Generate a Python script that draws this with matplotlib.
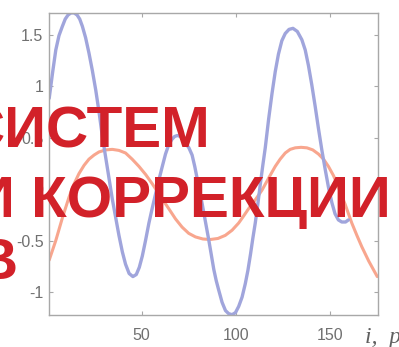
import matplotlib
matplotlib.use("Agg")
import matplotlib.pyplot as plt

# Blue series
blue_i = [1.0, 2.8, 4.5, 6.2, 8.0, 9.5, 11.0, 12.6, 14.2, 15.8, 17.2, 18.6, 20.3, 22.1, 23.9, 25.7,
          27.5, 29.2, 31.9, 34.5, 36.3, 38.0, 39.8, 41.5, 43.4, 45.4, 47.2, 48.8, 50.4, 52.1, 53.9,
          55.6, 57.4, 59.2, 61.0, 62.7, 64.4, 66.0, 67.5, 69.0, 70.6, 72.0, 73.5, 75.1, 76.8, 78.2,
          79.5, 80.8, 82.1, 83.8, 85.6, 87.0, 88.3, 89.6, 90.9, 92.7, 94.5, 96.2, 98.0, 99.8, 101.5,
          103.3, 105.0, 106.4, 107.8, 109.0, 110.3, 111.7, 113.0, 114.3, 115.6, 117.4, 119.2, 120.9,
          122.6, 124.4, 126.2, 128.2, 130.3, 132.6, 135.0, 136.8, 138.5, 140.3, 142.1, 143.8, 145.6,
          147.4, 149.1, 150.9, 152.6, 154.4, 156.2, 158.2, 159.7]
blue_v = [0.88, 1.13, 1.35, 1.49, 1.58, 1.65, 1.69, 1.71, 1.71, 1.69, 1.65, 1.58, 1.47, 1.32, 1.15, 0.96,
          0.74, 0.51, 0.20, -0.10, -0.28, -0.45, -0.61, -0.73, -0.82, -0.85, -0.83, -0.76, -0.65, -0.50, -0.33,
          -0.19, -0.05, 0.09, 0.22, 0.34, 0.43, 0.48, 0.51, 0.52, 0.51, 0.48, 0.44, 0.40, 0.33, 0.22,
          0.10, -0.02, -0.14, -0.31, -0.49, -0.64, -0.78, -0.89, -0.98, -1.10, -1.18, -1.21, -1.22, -1.20, -1.14,
          -1.05, -0.92, -0.79, -0.63, -0.48, -0.33, -0.14, 0.05, 0.23, 0.40, 0.68, 0.93, 1.14,
          1.31, 1.44, 1.51, 1.55, 1.56, 1.53, 1.45, 1.35, 1.20, 1.01, 0.80, 0.59, 0.38,
          0.19, 0.02, -0.13, -0.24, -0.30, -0.32, -0.32, -0.30]

# Orange series
orange_i = [1.0, 4.5, 8.0, 11.5, 14.2, 16.8, 19.5, 22.1, 24.8, 27.4, 31.0, 34.5, 38.0, 41.5, 45.0,
            48.6, 52.2, 55.7, 60.0, 64.4, 68.0, 71.5, 75.0, 78.6, 82.5, 86.5, 90.5, 94.4, 98.0, 101.5,
            104.2, 106.8, 110.5, 113.9, 117.5, 120.9, 123.5, 126.2, 128.8, 131.5, 134.6, 137.7, 140.8,
            143.8, 146.5, 149.1, 151.8, 154.4, 158.0, 161.5, 164.2, 166.8, 170.5, 175.0]
orange_v = [-0.69, -0.50, -0.28, -0.08, 0.05, 0.15, 0.23, 0.29, 0.33, 0.36, 0.38, 0.385, 0.375, 0.35, 0.29,
            0.22, 0.14, 0.05, -0.07, -0.19, -0.29, -0.37, -0.43, -0.465, -0.485, -0.49, -0.48, -0.45, -0.40, -0.33,
            -0.26, -0.19, -0.10, -0.01, 0.11, 0.22, 0.29, 0.35, 0.385, 0.40, 0.405, 0.40, 0.38,
            0.34, 0.29, 0.22, 0.13, 0.02, -0.15, -0.33, -0.45, -0.56, -0.70, -0.85]

x_ticks = [50, 100, 150]
y_ticks = [-1, -0.5, 0, 0.5, 1, 1.5]
y_tick_labels = ["-1", "-0.5", "0", "0.5", "1", "1.5"]

W, H = 399, 347
fig = plt.figure(figsize=(W / 100, H / 100), dpi=100)
ax = fig.add_axes([49 / W, 1 - 315 / H, (378 - 49) / W, (315 - 12.7) / H])

ax.plot(orange_i, orange_v, color="#f8a68e", lw=2.2, solid_capstyle="round")
ax.plot(blue_i, blue_v, color="#a0a5dc", lw=2.4, solid_capstyle="round")

ax.set_xlim(0.9, 175.4)
ax.set_ylim(-1.223, 1.712)
ax.set_xticks(x_ticks)
ax.set_yticks(y_ticks)
ax.set_yticklabels(y_tick_labels)

grey = "#a8a8a8"
for s in ax.spines.values():
    s.set_color(grey)
    s.set_linewidth(1.0)
ax.tick_params(direction="in", length=3, width=0.8, color=grey, top=True, right=True,
               labelcolor="#707070", labelsize=11.5)
ax.tick_params(axis="x", pad=9)
ax.tick_params(axis="y", pad=4)
for lab in ax.get_xticklabels() + ax.get_yticklabels():
    lab.set_family("Liberation Sans")

fig.text(365 / W, 1 - 343 / H, "i,  p", style="italic", family="Liberation Serif",
         fontsize=17, color="#606060", ha="left", va="baseline")

red = "#d22129"
kw = dict(family="Liberation Sans", weight="bold", color=red, fontsize=42, va="baseline", ha="right")
fig.text(210 / W, 1 - 148 / H, "СИСТЕМ", **kw)
fig.text(391 / W, 1 - 217 / H, "И КОРРЕКЦИИ", **kw)
fig.text(17 / W, 1 - 279 / H, "В", **kw)

fig.savefig("out.png", dpi=100)
